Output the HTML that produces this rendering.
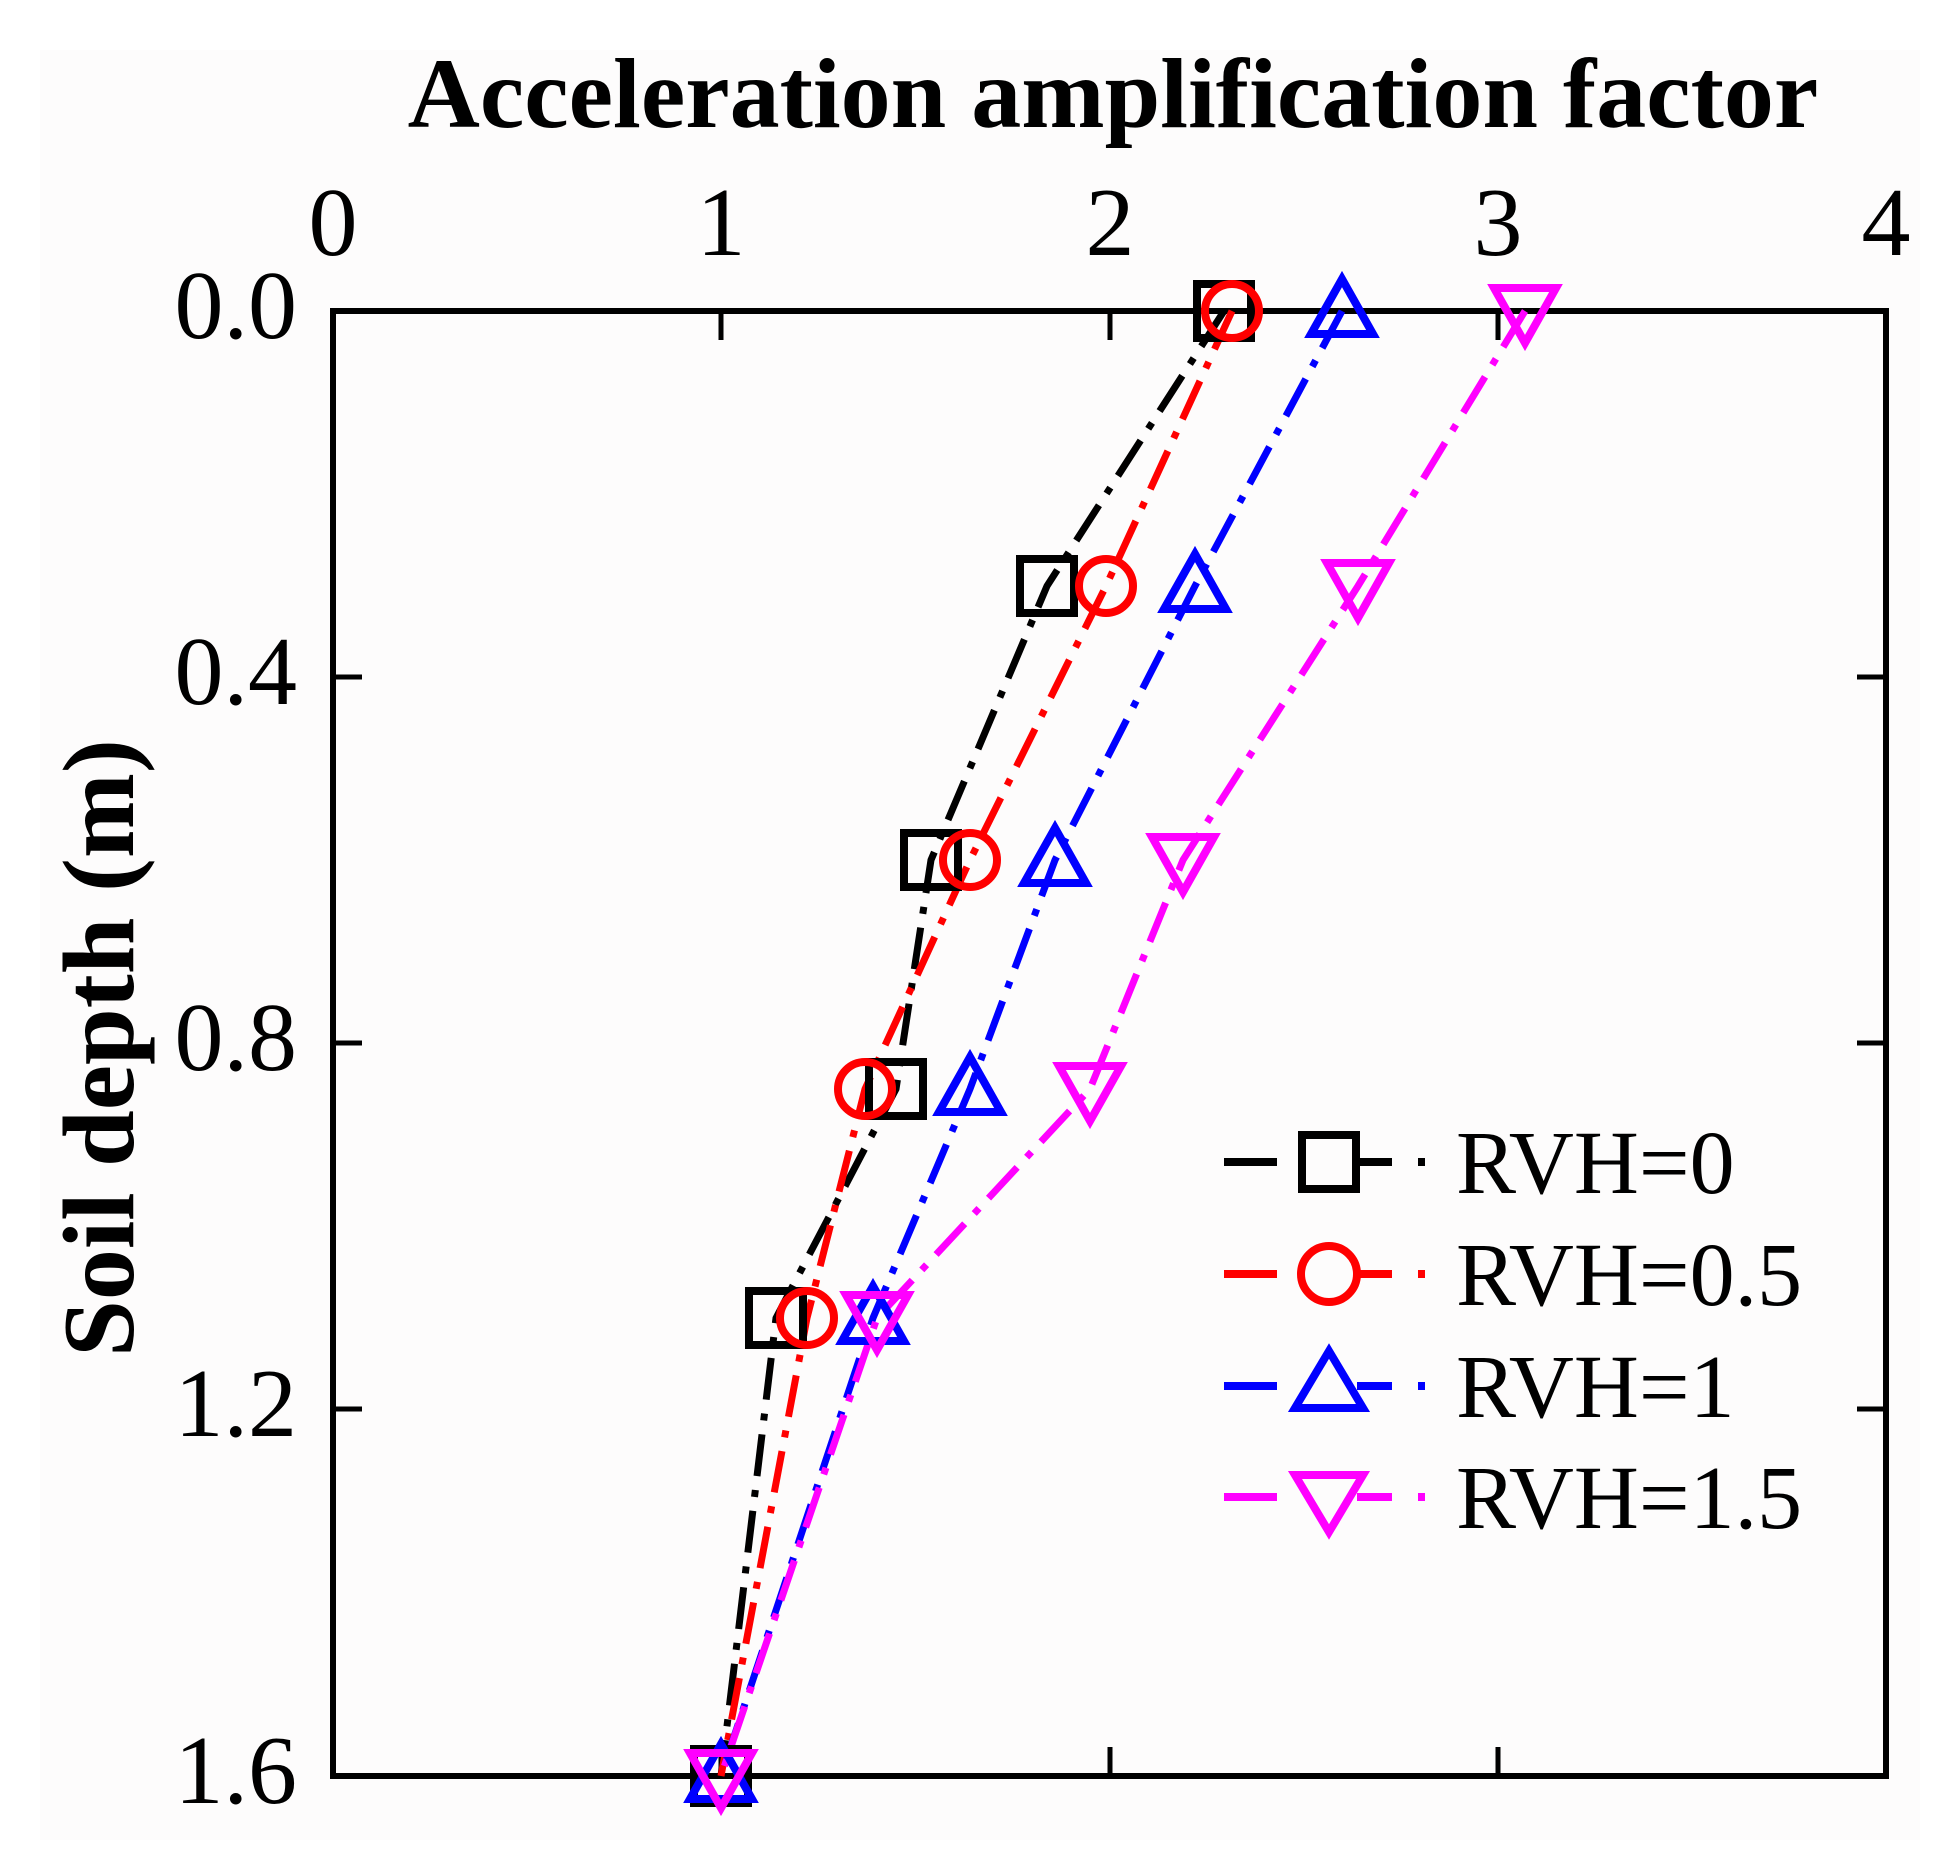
<!DOCTYPE html>
<html><head><meta charset="utf-8"><style>
html,body{margin:0;padding:0;background:#fff;}
svg{display:block;}
text{font-family:"Liberation Serif",serif;fill:#000;}
</style></head><body>
<svg width="1959" height="1866" viewBox="0 0 1959 1866" xmlns="http://www.w3.org/2000/svg">
<rect x="0" y="0" width="1959" height="1866" fill="#fff"/>
<rect x="40" y="50" width="1880" height="1790" fill="#fdfcfc"/>
<text x="1113" y="127" font-size="100" font-weight="bold" text-anchor="middle">Acceleration amplification factor</text>
<text transform="translate(133,1048) rotate(-90)" font-size="102" font-weight="bold" text-anchor="middle">Soil depth (m)</text>
<g font-size="98" text-anchor="middle">
<text x="333" y="255">0</text><text x="721" y="255">1</text><text x="1110" y="255">2</text><text x="1498" y="255">3</text><text x="1886" y="255">4</text>
</g>
<g font-size="98" text-anchor="end">
<text x="297" y="338">0.0</text><text x="297" y="704">0.4</text><text x="297" y="1070">0.8</text><text x="297" y="1436">1.2</text><text x="297" y="1803">1.6</text>
</g>
<rect x="333" y="311" width="1553" height="1465" fill="none" stroke="#000" stroke-width="6"/>
<g stroke="#000" stroke-width="5">
<line x1="721" y1="311" x2="721" y2="340"/><line x1="1110" y1="311" x2="1110" y2="340"/><line x1="1498" y1="311" x2="1498" y2="340"/>
<line x1="721" y1="1776" x2="721" y2="1747"/><line x1="1110" y1="1776" x2="1110" y2="1747"/><line x1="1498" y1="1776" x2="1498" y2="1747"/>
<line x1="333" y1="677" x2="362" y2="677"/><line x1="333" y1="1043" x2="362" y2="1043"/><line x1="333" y1="1409" x2="362" y2="1409"/>
<line x1="1886" y1="677" x2="1857" y2="677"/><line x1="1886" y1="1043" x2="1857" y2="1043"/><line x1="1886" y1="1409" x2="1857" y2="1409"/>
</g>
<g fill="none" stroke-width="7" stroke-dasharray="42 14 7 14">
<polyline stroke="#000" points="1224,311 1047,586 931,860 896,1089 776,1318 721,1776"/>
<polyline stroke="#f00" points="1232,311 1106,586 970,860 865,1089 807,1318 721,1776"/>
<polyline stroke="#00f" points="1342,311 1195,586 1055,860 970,1089 873,1318 721,1776"/>
<polyline stroke="#f0f" points="1525,311 1358,586 1183,860 1090,1089 877,1318 721,1776"/>
</g>
<g fill="none" stroke-width="8">
<g stroke="#000">
<rect x="1197" y="284" width="54" height="54"/><rect x="1020" y="559" width="54" height="54"/><rect x="904" y="833" width="54" height="54"/><rect x="869" y="1062" width="54" height="54"/><rect x="749" y="1291" width="54" height="54"/><rect x="694" y="1749" width="54" height="54"/>
</g>
<g stroke="#f00">
<circle cx="1232" cy="311" r="27"/><circle cx="1106" cy="586" r="27"/><circle cx="970" cy="860" r="27"/><circle cx="865" cy="1089" r="27"/><circle cx="807" cy="1318" r="27"/>
</g>
<g stroke="#00f">
<polygon points="1342,279 1373,334 1311,334"/><polygon points="1195,554 1226,609 1164,609"/><polygon points="1055,828 1086,883 1024,883"/><polygon points="970,1057 1001,1112 939,1112"/><polygon points="873,1286 904,1341 842,1341"/><polygon points="721,1744 752,1799 690,1799"/>
</g>
<g stroke="#f0f">
<polygon points="1525,343 1556,288 1494,288"/><polygon points="1358,618 1389,563 1327,563"/><polygon points="1183,892 1214,837 1152,837"/><polygon points="1090,1121 1121,1066 1059,1066"/><polygon points="877,1350 908,1295 846,1295"/><polygon points="721,1808 752,1753 690,1753"/>
</g>
</g>
<g stroke-width="8" fill="none">
<g stroke="#000"><line x1="1224" y1="1162" x2="1277" y2="1162"/><line x1="1357" y1="1162" x2="1392" y2="1162"/><line x1="1418" y1="1162" x2="1425" y2="1162"/><rect x="1302" y="1135" width="54" height="54"/></g>
<g stroke="#f00"><line x1="1224" y1="1274" x2="1277" y2="1274"/><line x1="1357" y1="1274" x2="1392" y2="1274"/><line x1="1418" y1="1274" x2="1425" y2="1274"/><circle cx="1329" cy="1274" r="28"/></g>
<g stroke="#00f"><line x1="1224" y1="1386" x2="1277" y2="1386"/><line x1="1357" y1="1386" x2="1392" y2="1386"/><line x1="1418" y1="1386" x2="1425" y2="1386"/><polygon points="1329,1351 1363,1408 1295,1408"/></g>
<g stroke="#f0f"><line x1="1224" y1="1497" x2="1277" y2="1497"/><line x1="1357" y1="1497" x2="1392" y2="1497"/><line x1="1418" y1="1497" x2="1425" y2="1497"/><polygon points="1329,1532 1363,1475 1295,1475"/></g>
</g>
<g font-size="90">
<text x="1456" y="1193">RVH=0</text><text x="1456" y="1305">RVH=0.5</text><text x="1456" y="1417">RVH=1</text><text x="1456" y="1528">RVH=1.5</text>
</g>
</svg>
</body></html>
